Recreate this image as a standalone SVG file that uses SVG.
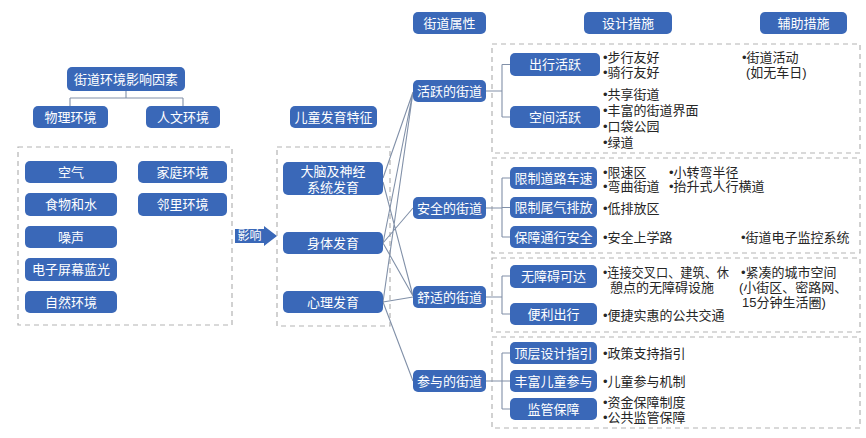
<svg xmlns="http://www.w3.org/2000/svg" width="866" height="438" viewBox="0 0 866 438">
<style>
.b{fill:#3a68b8}
.bl{fill:#fff;font-family:"Liberation Sans","Noto Sans CJK SC",sans-serif;font-size:13px;text-anchor:middle;dominant-baseline:central}
.t{fill:#262626;font-family:"Liberation Sans","Noto Sans CJK SC",sans-serif;font-size:13px;dominant-baseline:central}
.d{fill:none;stroke:#b3b3b3;stroke-width:1.2;stroke-dasharray:5 4}
.c{fill:none;stroke:#8190a8;stroke-width:1.1}
</style>
<rect width="866" height="438" fill="#fff"/>
<g id="dashed">
<rect class="d" x="18" y="147" width="214" height="178"/>
<rect class="d" x="277" y="147" width="113" height="179"/>
<rect class="d" x="492" y="44" width="368" height="109"/>
<rect class="d" x="492" y="158" width="368" height="95"/>
<rect class="d" x="492" y="258" width="368" height="74"/>
<rect class="d" x="492" y="337" width="368" height="91"/>
</g>
<g id="connectors">
<path class="c" d="M126 91V98M70 98H183M70 98V106M183 98V106"/>
<path class="c" d="M383 178L413 92M383 182L413 296M383 243L413 92M383 243L413 208M383 243L413 296M383 302L413 92M383 302L413 297M383 302L413 381"/>
<path class="c" d="M486 91H502M502 64.5V117M502 64.5H510M502 117H510"/>
<path class="c" d="M486 208H502M502 178V237M502 178H510M502 207.5H510M502 237H510"/>
<path class="c" d="M486 297H502M502 276V314M502 276H510M502 314H510"/>
<path class="c" d="M486 381H502M502 353V409M502 353H510M502 381H510M502 409H510"/>
</g>
<g id="n-factors"><rect class="b" x="67" y="67" width="118" height="24" rx="5"/><text class="bl" x="126" y="79">街道环境影响因素</text></g>
<g id="n-physical"><rect class="b" x="33" y="106" width="75" height="22" rx="5"/><text class="bl" x="70.5" y="117">物理环境</text></g>
<g id="n-human"><rect class="b" x="146" y="106" width="74" height="22" rx="5"/><text class="bl" x="183" y="117">人文环境</text></g>
<g id="n-air"><rect class="b" x="25" y="161" width="92" height="22" rx="5"/><text class="bl" x="71" y="172">空气</text></g>
<g id="n-food"><rect class="b" x="25" y="193" width="92" height="23" rx="5"/><text class="bl" x="71" y="204.5">食物和水</text></g>
<g id="n-noise"><rect class="b" x="25" y="226" width="92" height="22" rx="5"/><text class="bl" x="71" y="237">噪声</text></g>
<g id="n-screen"><rect class="b" x="25" y="258" width="92" height="23" rx="5"/><text class="bl" x="71" y="269.5">电子屏幕蓝光</text></g>
<g id="n-nature"><rect class="b" x="25" y="291" width="92" height="22" rx="5"/><text class="bl" x="71" y="302">自然环境</text></g>
<g id="n-family"><rect class="b" x="138" y="161" width="89" height="22" rx="5"/><text class="bl" x="182.5" y="172">家庭环境</text></g>
<g id="n-neighbor"><rect class="b" x="138" y="193" width="89" height="23" rx="5"/><text class="bl" x="182.5" y="204.5">邻里环境</text></g>
<g id="n-influence"><path class="b" d="M235 229H264V226L277 236L264 246V243H235Z"/><text class="bl" x="249.5" y="236" style="font-size:12px">影响</text></g>
<g id="n-child"><rect class="b" x="290" y="106" width="87" height="22" rx="5"/><text class="bl" x="333.5" y="117">儿童发育特征</text></g>
<g id="n-brain"><rect class="b" x="283" y="162" width="100" height="33" rx="5"/><text class="bl"><tspan x="333" y="170.5">大脑及神经</tspan><tspan x="333" y="186.5">系统发育</tspan></text></g>
<g id="n-body"><rect class="b" x="283" y="232" width="100" height="22" rx="5"/><text class="bl" x="333" y="243">身体发育</text></g>
<g id="n-mind"><rect class="b" x="283" y="291" width="100" height="22" rx="5"/><text class="bl" x="333" y="302">心理发育</text></g>
<g id="n-attr"><rect class="b" x="413" y="12" width="73" height="22" rx="5"/><text class="bl" x="449.5" y="23">街道属性</text></g>
<g id="n-active"><rect class="b" x="413" y="80" width="73" height="22" rx="5"/><text class="bl" x="449.5" y="91">活跃的街道</text></g>
<g id="n-safe"><rect class="b" x="413" y="197" width="73" height="22" rx="5"/><text class="bl" x="449.5" y="208">安全的街道</text></g>
<g id="n-comfort"><rect class="b" x="413" y="286" width="73" height="22" rx="5"/><text class="bl" x="449.5" y="297">舒适的街道</text></g>
<g id="n-particip"><rect class="b" x="413" y="370" width="73" height="22" rx="5"/><text class="bl" x="449.5" y="381">参与的街道</text></g>
<g id="n-design"><rect class="b" x="584" y="12" width="88" height="22" rx="5"/><text class="bl" x="628" y="23">设计措施</text></g>
<g id="n-aux"><rect class="b" x="760" y="12" width="87" height="22" rx="5"/><text class="bl" x="803.5" y="23">辅助措施</text></g>
<g id="n-travel"><rect class="b" x="510" y="53" width="90" height="23" rx="5"/><text class="bl" x="555" y="64.5">出行活跃</text></g>
<g id="n-space"><rect class="b" x="510" y="106" width="90" height="22" rx="5"/><text class="bl" x="555" y="117">空间活跃</text></g>
<g id="n-speed"><rect class="b" x="510" y="167" width="87" height="22" rx="5"/><text class="bl" x="553.5" y="178">限制道路车速</text></g>
<g id="n-exhaust"><rect class="b" x="510" y="197" width="87" height="21" rx="5"/><text class="bl" x="553.5" y="207.5">限制尾气排放</text></g>
<g id="n-safety"><rect class="b" x="510" y="226" width="87" height="22" rx="5"/><text class="bl" x="553.5" y="237">保障通行安全</text></g>
<g id="n-barrier"><rect class="b" x="510" y="265" width="87" height="23" rx="5"/><text class="bl" x="553.5" y="276.5">无障碍可达</text></g>
<g id="n-convenient"><rect class="b" x="510" y="303" width="87" height="22" rx="5"/><text class="bl" x="553.5" y="314">便利出行</text></g>
<g id="n-top"><rect class="b" x="510" y="342" width="87" height="22" rx="5"/><text class="bl" x="553.5" y="353">顶层设计指引</text></g>
<g id="n-rich"><rect class="b" x="510" y="370" width="87" height="22" rx="5"/><text class="bl" x="553.5" y="381">丰富儿童参与</text></g>
<g id="n-supervise"><rect class="b" x="510" y="398" width="87" height="22" rx="5"/><text class="bl" x="553.5" y="409">监管保障</text></g>
<g id="texts">
<text class="t" x="603" y="57">•步行友好</text>
<text class="t" x="603" y="72">•骑行友好</text>
<text class="t" x="603" y="94">•共享街道</text>
<text class="t" x="603" y="110">•丰富的街道界面</text>
<text class="t" x="603" y="126">•口袋公园</text>
<text class="t" x="603" y="142">•绿道</text>
<text class="t" x="742" y="57">•街道活动</text>
<text class="t" x="746" y="72">(如无车日)</text>
<text class="t" x="603" y="172">•限速区</text>
<text class="t" x="669" y="172">•小转弯半径</text>
<text class="t" x="603" y="186">•弯曲街道</text>
<text class="t" x="669" y="186">•抬升式人行横道</text>
<text class="t" x="603" y="208">•低排放区</text>
<text class="t" x="603" y="237">•安全上学路</text>
<text class="t" x="741" y="237">•街道电子监控系统</text>
<text class="t" x="603" y="272" textLength="126" lengthAdjust="spacingAndGlyphs">•连接交叉口、建筑、休</text>
<text class="t" x="610" y="287">憩点的无障碍设施</text>
<text class="t" x="741" y="272">•紧凑的城市空间</text>
<text class="t" x="739" y="287">(小街区、密路网、</text>
<text class="t" x="742" y="302">15分钟生活圈)</text>
<text class="t" x="603" y="315">•便捷实惠的公共交通</text>
<text class="t" x="603" y="353">•政策支持指引</text>
<text class="t" x="603" y="381">•儿童参与机制</text>
<text class="t" x="603" y="402">•资金保障制度</text>
<text class="t" x="603" y="417">•公共监管保障</text>
</g>
</svg>
